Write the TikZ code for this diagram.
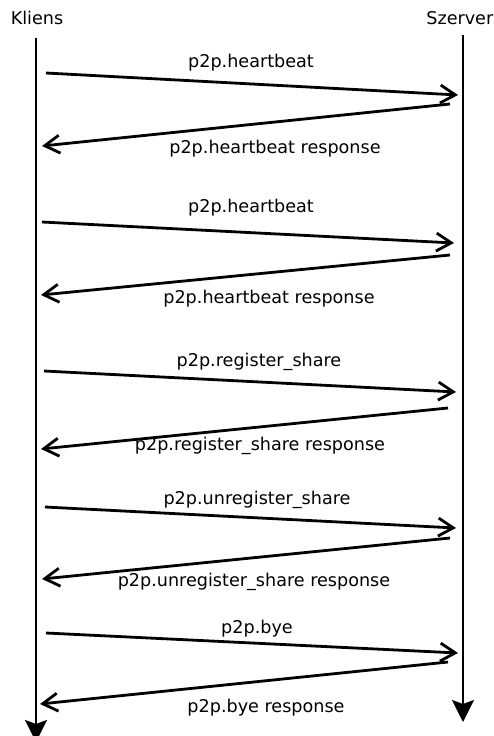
\documentclass[tikz,border=0pt]{standalone}
\usepackage{fontspec}
\setmainfont{DejaVu Sans}
\usetikzlibrary{arrows.meta}
\begin{document}
\begin{tikzpicture}[x=1pt,y=-1pt,
  msg/.style={line width=2.8pt, -{Straight Barb[length=15pt,width=18pt,line width=2.8pt]}},
  life/.style={line width=2.4pt, -{Stealth[length=22pt,width=22pt,inset=4pt]}},
  lbl/.style={anchor=base, inner sep=0pt, font=\fontsize{17.6}{20}\selectfont},
]
\useasboundingbox (0,0) rectangle (494,736);
\clip (0,0) rectangle (494,736);
% participants
\node[lbl] (kl) at (37,24) {Kliens};
\node[lbl, anchor=base east] (sz) at (493.5,24) {Szerver};
\coordinate (kt) at (36,38);
\coordinate (kb) at (36,742);
\coordinate (st) at (463,35);
\coordinate (sb) at (463,722);
\draw[life] (kt) -- (kb);
\draw[life] (st) -- (sb);
% row 1
\coordinate (a1) at (46,73);  \coordinate (b1) at (458,95);
\coordinate (c1) at (450,104); \coordinate (d1) at (42,146);
\draw[msg] (a1) -- (b1);
\draw[msg] (c1) -- (d1);
\node[lbl] (m1) at (251,67) {p2p.heartbeat};
\node[lbl] (r1) at (275,153) {p2p.heartbeat response};
% row 2
\coordinate (a2) at (42,222);  \coordinate (b2) at (454,243);
\coordinate (c2) at (450,255); \coordinate (d2) at (41,295);
\draw[msg] (a2) -- (b2);
\draw[msg] (c2) -- (d2);
\node[lbl] (m2) at (251,212) {p2p.heartbeat};
\node[lbl] (r2) at (269,303) {p2p.heartbeat response};
% row 3
\coordinate (a3) at (44,371);  \coordinate (b3) at (456,392);
\coordinate (c3) at (448,408); \coordinate (d3) at (41,449);
\draw[msg] (a3) -- (b3);
\draw[msg] (c3) -- (d3);
\node[lbl] (m3) at (259,366) {p2p.register\_share};
\node[lbl] (r3) at (260,450) {p2p.register\_share response};
% row 4
\coordinate (a4) at (45,507);  \coordinate (b4) at (456,528);
\coordinate (c4) at (450,538); \coordinate (d4) at (42,579);
\draw[msg] (a4) -- (b4);
\draw[msg] (c4) -- (d4);
\node[lbl] (m4) at (257,504) {p2p.unregister\_share};
\node[lbl] (r4) at (254,586) {p2p.unregister\_share response};
% row 5
\coordinate (a5) at (46,633);  \coordinate (b5) at (458,653);
\coordinate (c5) at (448,662); \coordinate (d5) at (40,704);
\draw[msg] (a5) -- (b5);
\draw[msg] (c5) -- (d5);
\node[lbl] (m5) at (257,633) {p2p.bye};
\node[lbl] (r5) at (266,712) {p2p.bye response};
\end{tikzpicture}
\end{document}
